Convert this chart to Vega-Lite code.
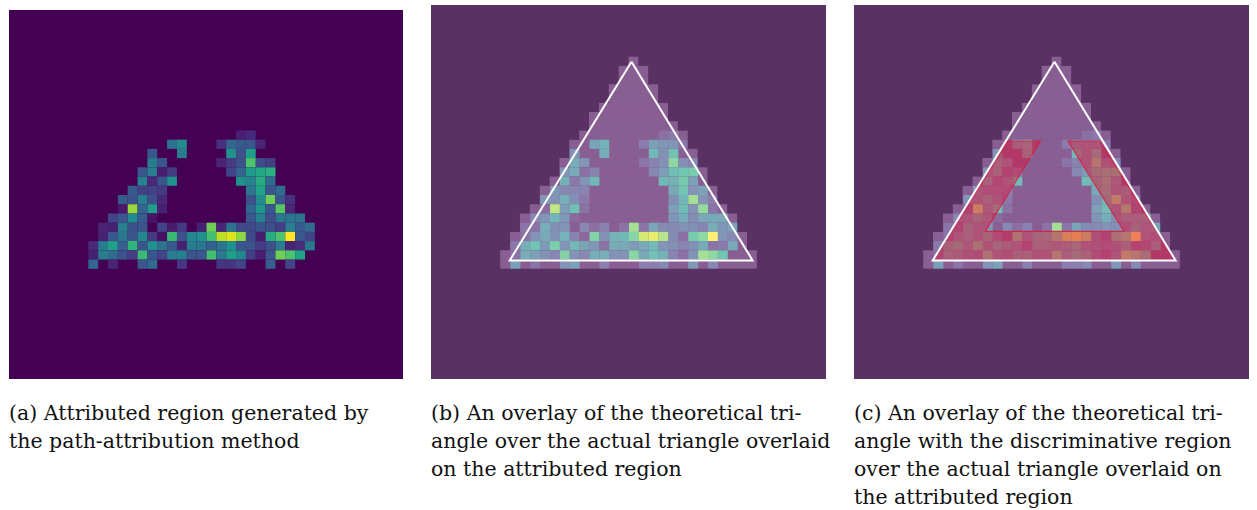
{
  "$schema": "https://vega.github.io/schema/vega-lite/v6.json",
  "background": "white",
  "padding": {"left": 9, "top": 5, "right": 0, "bottom": 0},
  "spacing": 28,
  "bounds": "flush",
  "config": {"view": {"stroke": null}, "title": {"font": "DejaVu Serif", "fontSize": 20.5, "fontWeight": "normal", "color": "#111", "lineHeight": 28, "offset": 25, "orient": "bottom", "anchor": "start"}},
  "datasets": {
    "attr": [
      {"r":13,"c":23,"v":0.08},{"r":13,"c":24,"v":0.12},
      {"r":14,"c":16,"v":0.38},{"r":14,"c":17,"v":0.47},{"r":14,"c":21,"v":0.14},{"r":14,"c":22,"v":0.33},{"r":14,"c":23,"v":0.28},{"r":14,"c":24,"v":0.27},{"r":14,"c":25,"v":0.1},
      {"r":15,"c":14,"v":0.27},{"r":15,"c":17,"v":0.42},{"r":15,"c":22,"v":0.5},{"r":15,"c":23,"v":0.25},{"r":15,"c":24,"v":0.56},
      {"r":16,"c":14,"v":0.42},{"r":16,"c":15,"v":0.27},{"r":16,"c":21,"v":0.1},{"r":16,"c":22,"v":0.17},{"r":16,"c":23,"v":0.25},{"r":16,"c":24,"v":0.72},{"r":16,"c":25,"v":0.23},{"r":16,"c":26,"v":0.19},
      {"r":17,"c":13,"v":0.27},{"r":17,"c":14,"v":0.42},{"r":17,"c":15,"v":0.08},{"r":17,"c":16,"v":0.17},{"r":17,"c":22,"v":0.2},{"r":17,"c":23,"v":0.32},{"r":17,"c":24,"v":0.55},{"r":17,"c":25,"v":0.6},{"r":17,"c":26,"v":0.63},
      {"r":18,"c":13,"v":0.44},{"r":18,"c":14,"v":0.12},{"r":18,"c":15,"v":0.27},{"r":18,"c":16,"v":0.5},{"r":18,"c":23,"v":0.5},{"r":18,"c":24,"v":0.45},{"r":18,"c":25,"v":0.62},{"r":18,"c":26,"v":0.35},
      {"r":19,"c":12,"v":0.28},{"r":19,"c":13,"v":0.19},{"r":19,"c":14,"v":0.19},{"r":19,"c":15,"v":0.17},{"r":19,"c":24,"v":0.4},{"r":19,"c":25,"v":0.58},{"r":19,"c":26,"v":0.27},{"r":19,"c":27,"v":0.35},
      {"r":20,"c":11,"v":0.28},{"r":20,"c":12,"v":0.25},{"r":20,"c":13,"v":0.43},{"r":20,"c":14,"v":0.24},{"r":20,"c":15,"v":0.11},{"r":20,"c":24,"v":0.24},{"r":20,"c":25,"v":0.48},{"r":20,"c":26,"v":0.78},{"r":20,"c":27,"v":0.26},{"r":20,"c":28,"v":0.14},
      {"r":21,"c":11,"v":0.06},{"r":21,"c":12,"v":0.85},{"r":21,"c":13,"v":0.32},{"r":21,"c":14,"v":0.56},{"r":21,"c":15,"v":0.09},{"r":21,"c":24,"v":0.33},{"r":21,"c":25,"v":0.53},{"r":21,"c":26,"v":0.27},{"r":21,"c":27,"v":0.74},{"r":21,"c":28,"v":0.1},
      {"r":22,"c":10,"v":0.2},{"r":22,"c":11,"v":0.27},{"r":22,"c":12,"v":0.48},{"r":22,"c":13,"v":0.29},{"r":22,"c":14,"v":0.05},{"r":22,"c":24,"v":0.28},{"r":22,"c":25,"v":0.43},{"r":22,"c":26,"v":0.24},{"r":22,"c":27,"v":0.39},{"r":22,"c":28,"v":0.39},{"r":22,"c":29,"v":0.39},
      {"r":23,"c":9,"v":0.1},{"r":23,"c":10,"v":0.09},{"r":23,"c":11,"v":0.43},{"r":23,"c":12,"v":0.24},{"r":23,"c":13,"v":0.27},{"r":23,"c":15,"v":0.2},{"r":23,"c":16,"v":0.07},{"r":23,"c":17,"v":0.16},{"r":23,"c":19,"v":0.09},{"r":23,"c":20,"v":0.78},{"r":23,"c":21,"v":0.1},{"r":23,"c":22,"v":0.38},{"r":23,"c":23,"v":0.22},{"r":23,"c":24,"v":0.22},{"r":23,"c":25,"v":0.26},{"r":23,"c":26,"v":0.24},{"r":23,"c":27,"v":0.18},{"r":23,"c":28,"v":0.42},{"r":23,"c":29,"v":0.28},{"r":23,"c":30,"v":0.35},
      {"r":24,"c":9,"v":0.09},{"r":24,"c":10,"v":0.27},{"r":24,"c":11,"v":0.4},{"r":24,"c":12,"v":0.26},{"r":24,"c":13,"v":0.46},{"r":24,"c":14,"v":0.17},{"r":24,"c":15,"v":0.04},{"r":24,"c":16,"v":0.68},{"r":24,"c":17,"v":0.25},{"r":24,"c":18,"v":0.47},{"r":24,"c":19,"v":0.5},{"r":24,"c":20,"v":0.7},{"r":24,"c":21,"v":0.9},{"r":24,"c":22,"v":0.95},{"r":24,"c":23,"v":0.83},{"r":24,"c":24,"v":0.22},{"r":24,"c":25,"v":0.08},{"r":24,"c":26,"v":0.62},{"r":24,"c":27,"v":0.72},{"r":24,"c":28,"v":1.0},{"r":24,"c":29,"v":0.27},{"r":24,"c":30,"v":0.2},
      {"r":25,"c":8,"v":0.12},{"r":25,"c":9,"v":0.42},{"r":25,"c":10,"v":0.57},{"r":25,"c":11,"v":0.3},{"r":25,"c":12,"v":0.65},{"r":25,"c":13,"v":0.27},{"r":25,"c":14,"v":0.5},{"r":25,"c":15,"v":0.38},{"r":25,"c":16,"v":0.28},{"r":25,"c":17,"v":0.09},{"r":25,"c":18,"v":0.42},{"r":25,"c":19,"v":0.4},{"r":25,"c":20,"v":0.31},{"r":25,"c":21,"v":0.39},{"r":25,"c":22,"v":0.5},{"r":25,"c":23,"v":0.27},{"r":25,"c":24,"v":0.25},{"r":25,"c":25,"v":0.18},{"r":25,"c":26,"v":0.24},{"r":25,"c":27,"v":0.41},{"r":25,"c":28,"v":0.1},{"r":25,"c":29,"v":0.13},{"r":25,"c":30,"v":0.4},
      {"r":26,"c":8,"v":0.09},{"r":26,"c":9,"v":0.42},{"r":26,"c":10,"v":0.35},{"r":26,"c":11,"v":0.25},{"r":26,"c":12,"v":0.18},{"r":26,"c":13,"v":0.68},{"r":26,"c":14,"v":0.27},{"r":26,"c":15,"v":0.2},{"r":26,"c":16,"v":0.42},{"r":26,"c":17,"v":0.43},{"r":26,"c":18,"v":0.26},{"r":26,"c":19,"v":0.27},{"r":26,"c":20,"v":0.7},{"r":26,"c":21,"v":0.4},{"r":26,"c":22,"v":0.56},{"r":26,"c":23,"v":0.46},{"r":26,"c":24,"v":0.18},{"r":26,"c":25,"v":0.08},{"r":26,"c":26,"v":0.27},{"r":26,"c":27,"v":0.78},{"r":26,"c":28,"v":0.72},{"r":26,"c":29,"v":0.58},
      {"r":27,"c":8,"v":0.33},{"r":27,"c":10,"v":0.1},{"r":27,"c":13,"v":0.27},{"r":27,"c":14,"v":0.35},{"r":27,"c":17,"v":0.15},{"r":27,"c":21,"v":0.15},{"r":27,"c":22,"v":0.15},{"r":27,"c":23,"v":0.2},{"r":27,"c":26,"v":0.3},{"r":27,"c":28,"v":0.2}
    ],
    "mask": [
      {"r":5,"from":20,"to":21},{"r":6,"from":19,"to":22},{"r":7,"from":19,"to":22},{"r":8,"from":18,"to":23},
      {"r":9,"from":18,"to":23},{"r":10,"from":17,"to":24},{"r":11,"from":16,"to":24},{"r":12,"from":16,"to":25},
      {"r":13,"from":15,"to":26},{"r":14,"from":14,"to":26},{"r":15,"from":14,"to":27},{"r":16,"from":13,"to":27},
      {"r":17,"from":13,"to":28},{"r":18,"from":12,"to":28},{"r":19,"from":11,"to":29},{"r":20,"from":11,"to":29},
      {"r":21,"from":10,"to":30},{"r":22,"from":9,"to":31},{"r":23,"from":9,"to":31},{"r":24,"from":8,"to":32},
      {"r":25,"from":8,"to":32},{"r":26,"from":7,"to":33},{"r":27,"from":7,"to":33}
    ],
    "field": [{"r0":0,"r1":40,"from":0,"to":40}],
    "tri": [
      {"i":0,"col":20.3,"row":5.6},{"i":1,"col":32.57,"row":27.15},
      {"i":2,"col":7.97,"row":27.15},{"i":3,"col":20.3,"row":5.6}
    ],
    "disc": [
      {"part":"left","row":14.2,"from":15.6,"to":18.88},{"part":"left","row":24.0,"from":9.83,"to":13.3},
      {"part":"right","row":14.2,"from":21.66,"to":24.9},{"part":"right","row":24.0,"from":27.35,"to":30.7},
      {"part":"base","row":24.0,"from":9.83,"to":30.7},{"part":"base","row":27.15,"from":7.97,"to":32.57}
    ],
    "discEdge": [
      {"i":0,"col":15.6,"row":14.2},{"i":1,"col":18.88,"row":14.2},{"i":2,"col":13.3,"row":24.0},
      {"i":3,"col":27.35,"row":24.0},{"i":4,"col":21.66,"row":14.2},{"i":5,"col":24.9,"row":14.2},
      {"i":6,"col":32.57,"row":27.15},{"i":7,"col":7.97,"row":27.15},{"i":8,"col":15.6,"row":14.2}
    ]
  },
  "hconcat": [
    {
      "width": 394, "height": 374,
      "title": {"text": ["(a) Attributed region generated by", "the path-attribution method"]},
      "layer": [
        {
          "data": {"name": "field"},
          "mark": {"type": "rect", "color": "#440154"},
          "encoding": {
            "x": {"field": "from", "type": "quantitative", "scale": {"domain": [0, 40], "nice": false, "zero": false}, "axis": null},
            "x2": {"field": "to"},
            "y": {"field": "r0", "type": "quantitative", "scale": {"domain": [-0.542, 40], "reverse": true, "nice": false, "zero": false}, "axis": null},
            "y2": {"field": "r1"}
          }
        },
        {
          "data": {"name": "attr"},
          "mark": {"type": "rect", "binSpacing": 0},
          "encoding": {
            "x": {"field": "c", "type": "quantitative", "bin": {"binned": true, "step": 1}, "scale": {"domain": [0, 40], "nice": false, "zero": false}, "axis": null},
            "y": {"field": "r", "type": "quantitative", "bin": {"binned": true, "step": 1}, "scale": {"domain": [-0.542, 40], "reverse": true, "nice": false, "zero": false}, "axis": null},
            "color": {"field": "v", "type": "quantitative", "scale": {"scheme": "viridis", "domain": [0, 1]}, "legend": null}
          }
        }
      ]
    },
    {
      "width": 395, "height": 374,
      "view": {"fill": "#5a3163", "stroke": null},
      "title": {"text": ["(b) An overlay of the theoretical tri-", "angle over the actual triangle overlaid", "on the attributed region"]},
      "layer": [
        {
          "data": {"name": "mask"},
          "mark": {"type": "rect", "color": "#440154", "binSpacing": 0},
          "encoding": {
            "x": {"field": "from", "type": "quantitative", "scale": {"domain": [0, 40], "nice": false, "zero": false}, "axis": null},
            "x2": {"field": "to"},
            "y": {"field": "r", "type": "quantitative", "bin": {"binned": true, "step": 1}, "scale": {"domain": [-0.542, 40], "reverse": true, "nice": false, "zero": false}, "axis": null}
          }
        },
        {
          "data": {"name": "attr"},
          "mark": {"type": "rect", "binSpacing": 0},
          "encoding": {
            "x": {"field": "c", "type": "quantitative", "bin": {"binned": true, "step": 1}, "scale": {"domain": [0, 40], "nice": false, "zero": false}, "axis": null},
            "y": {"field": "r", "type": "quantitative", "bin": {"binned": true, "step": 1}, "scale": {"domain": [-0.542, 40], "reverse": true, "nice": false, "zero": false}, "axis": null},
            "color": {"field": "v", "type": "quantitative", "scale": {"scheme": "viridis", "domain": [0, 1]}, "legend": null}
          }
        },
        {
          "data": {"name": "mask"},
          "mark": {"type": "rect", "color": "white", "opacity": 0.37, "binSpacing": 0},
          "encoding": {
            "x": {"field": "from", "type": "quantitative", "scale": {"domain": [0, 40], "nice": false, "zero": false}, "axis": null},
            "x2": {"field": "to"},
            "y": {"field": "r", "type": "quantitative", "bin": {"binned": true, "step": 1}, "scale": {"domain": [-0.542, 40], "reverse": true, "nice": false, "zero": false}, "axis": null}
          }
        },
        {
          "data": {"name": "tri"},
          "mark": {"type": "line", "color": "white", "strokeWidth": 2, "strokeJoin": "miter"},
          "encoding": {
            "x": {"field": "col", "type": "quantitative", "scale": {"domain": [0, 40], "nice": false, "zero": false}, "axis": null},
            "y": {"field": "row", "type": "quantitative", "scale": {"domain": [-0.542, 40], "reverse": true, "nice": false, "zero": false}, "axis": null},
            "order": {"field": "i", "type": "quantitative"}
          }
        }
      ]
    },
    {
      "width": 395, "height": 374,
      "view": {"fill": "#5a3163", "stroke": null},
      "title": {"text": ["(c) An overlay of the theoretical tri-", "angle with the discriminative region", "over the actual triangle overlaid on", "the attributed region"]},
      "layer": [
        {
          "data": {"name": "mask"},
          "mark": {"type": "rect", "color": "#440154", "binSpacing": 0},
          "encoding": {
            "x": {"field": "from", "type": "quantitative", "scale": {"domain": [0, 40], "nice": false, "zero": false}, "axis": null},
            "x2": {"field": "to"},
            "y": {"field": "r", "type": "quantitative", "bin": {"binned": true, "step": 1}, "scale": {"domain": [-0.542, 40], "reverse": true, "nice": false, "zero": false}, "axis": null}
          }
        },
        {
          "data": {"name": "attr"},
          "mark": {"type": "rect", "binSpacing": 0},
          "encoding": {
            "x": {"field": "c", "type": "quantitative", "bin": {"binned": true, "step": 1}, "scale": {"domain": [0, 40], "nice": false, "zero": false}, "axis": null},
            "y": {"field": "r", "type": "quantitative", "bin": {"binned": true, "step": 1}, "scale": {"domain": [-0.542, 40], "reverse": true, "nice": false, "zero": false}, "axis": null},
            "color": {"field": "v", "type": "quantitative", "scale": {"scheme": "viridis", "domain": [0, 1]}, "legend": null}
          }
        },
        {
          "data": {"name": "mask"},
          "mark": {"type": "rect", "color": "white", "opacity": 0.37, "binSpacing": 0},
          "encoding": {
            "x": {"field": "from", "type": "quantitative", "scale": {"domain": [0, 40], "nice": false, "zero": false}, "axis": null},
            "x2": {"field": "to"},
            "y": {"field": "r", "type": "quantitative", "bin": {"binned": true, "step": 1}, "scale": {"domain": [-0.542, 40], "reverse": true, "nice": false, "zero": false}, "axis": null}
          }
        },
        {
          "data": {"name": "disc"},
          "mark": {"type": "area", "orient": "horizontal", "color": "#dc143c", "opacity": 0.5},
          "encoding": {
            "y": {"field": "row", "type": "quantitative", "scale": {"domain": [-0.542, 40], "reverse": true, "nice": false, "zero": false}, "axis": null},
            "x": {"field": "from", "type": "quantitative", "scale": {"domain": [0, 40], "nice": false, "zero": false}, "axis": null},
            "x2": {"field": "to"},
            "detail": {"field": "part"}
          }
        },
        {
          "data": {"name": "discEdge"},
          "mark": {"type": "line", "color": "#d81b3c", "strokeWidth": 1.2, "opacity": 0.8},
          "encoding": {
            "x": {"field": "col", "type": "quantitative", "scale": {"domain": [0, 40], "nice": false, "zero": false}, "axis": null},
            "y": {"field": "row", "type": "quantitative", "scale": {"domain": [-0.542, 40], "reverse": true, "nice": false, "zero": false}, "axis": null},
            "order": {"field": "i", "type": "quantitative"}
          }
        },
        {
          "data": {"name": "tri"},
          "mark": {"type": "line", "color": "white", "strokeWidth": 2, "strokeJoin": "miter"},
          "encoding": {
            "x": {"field": "col", "type": "quantitative", "scale": {"domain": [0, 40], "nice": false, "zero": false}, "axis": null},
            "y": {"field": "row", "type": "quantitative", "scale": {"domain": [-0.542, 40], "reverse": true, "nice": false, "zero": false}, "axis": null},
            "order": {"field": "i", "type": "quantitative"}
          }
        }
      ]
    }
  ]
}
